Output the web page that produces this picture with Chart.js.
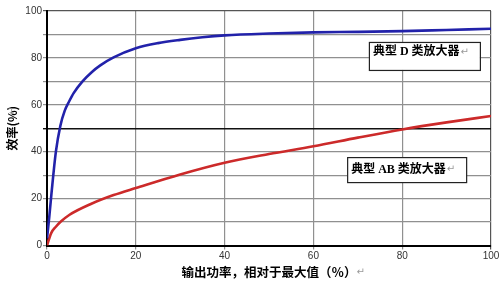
<!DOCTYPE html>
<html>
<head>
<meta charset="utf-8">
<script src="https://cdn.jsdelivr.net/npm/chart.js@4/dist/chart.umd.min.js"></script>
<style>
  html, body { margin: 0; padding: 0; background: #fff; }
  #wrap { width: 504px; height: 286px; position: relative; }
</style>
</head>
<body>
<div id="wrap"><canvas id="effChart"></canvas></div>
<script>
// output power, % of max (x) and efficiency % (y)
const classDPower = [0, 0.5, 1, 2, 3, 4, 5, 6, 8, 10, 12, 15, 20, 25, 30, 35, 40, 50, 60, 70, 80, 90, 100];
const classDEff = [3, 12, 22, 40, 51, 57.5, 61.5, 65, 70, 73.8, 76.8, 80.2, 84.1, 86.3, 87.7, 88.8, 89.6, 90.4, 90.9, 91.1, 91.4, 91.9, 92.4];

const classABPower = [0, 0.5, 1, 2, 3, 5, 10, 15, 20, 30, 40, 50, 60, 70, 80, 90, 100];
const classABEff = [0, 3, 5.5, 8, 10, 13, 17.8, 21.5, 24.5, 30.3, 35.3, 39, 42.3, 46, 49.5, 52.5, 55.2];

const xTitle = "输出功率，相对于最大值（％）";
const yTitle = "效率(%)";
const returnMark = "↵";

// label boxes: text and anchor (data units of the top-left corner)
const labelTexts = ["典型 D 类放大器", "典型 AB 类放大器"];
const labelAnchorX = [72.5, 67.6];
const labelAnchorY = [86.8, 37.7];

const xTitleFont = { family: "'Noto Sans CJK SC', sans-serif", size: 12.5, weight: "bold" };
const yTitleFont = { family: "'Noto Sans CJK SC', sans-serif", size: 12, weight: "bold" };

function toPoints(xs, ys) {
  return xs.map((x, i) => ({ x: x, y: ys[i] }));
}

function drawMark(ctx, x, y) {
  ctx.font = "10px 'DejaVu Sans', sans-serif";
  ctx.fillStyle = "#999";
  ctx.textBaseline = "middle";
  ctx.textAlign = "left";
  ctx.fillText(returnMark, x, y);
}

// boxed labels over the plot plus the little grey paragraph marks
const labelBoxes = {
  id: "labelBoxes",
  afterDatasetsDraw(chart) {
    const ctx = chart.ctx;
    const sx = chart.scales.x;
    const sy = chart.scales.y;
    const sizes = [[111, 28, 10], [119, 25, 12.5]];
    ctx.save();
    labelTexts.forEach((txt, i) => {
      const left = sx.getPixelForValue(labelAnchorX[i]);
      const top = sy.getPixelForValue(labelAnchorY[i]);
      const [w, h, ty] = sizes[i];
      ctx.fillStyle = "#fff";
      ctx.fillRect(left, top, w, h);
      ctx.strokeStyle = "#222";
      ctx.lineWidth = 1.2;
      ctx.strokeRect(left + 0.5, top + 0.5, w, h);
      ctx.font = "bold 12px 'Liberation Serif', 'Noto Sans CJK SC', serif";
      ctx.fillStyle = "#000";
      ctx.textBaseline = "middle";
      ctx.fillText(txt, left + 4, top + ty);
      const tw = ctx.measureText(txt).width;
      drawMark(ctx, left + 5 + tw, top + ty);
    });
    ctx.restore();
  },
  afterDraw(chart) {
    const ctx = chart.ctx;
    const sx = chart.scales.x;
    const sy = chart.scales.y;
    ctx.save();
    // x title mark
    ctx.font = "bold " + xTitleFont.size + "px " + xTitleFont.family;
    const xw = ctx.measureText(xTitle).width;
    const xc = (sx.left + sx.right) / 2;
    drawMark(ctx, xc + xw / 2, 286 - 14);
    // y title mark (rotated)
    ctx.font = "bold " + yTitleFont.size + "px " + yTitleFont.family;
    const yw = ctx.measureText(yTitle).width;
    const yc = (sy.top + sy.bottom) / 2;
    ctx.translate(12, yc - yw / 2 + 9);
    ctx.rotate(-Math.PI / 2);
    drawMark(ctx, 0, 0);
    ctx.restore();
  },
};

function gridColorY(c) {
  if (c.tick.value === 50) return "#111";
  if (c.tick.value === 100) return "#555";
  return "#909090";
}

function gridColorX(c) {
  if (c.tick.value === 100) return "#555";
  return "#909090";
}

const ctx = document.getElementById("effChart").getContext("2d");
new Chart(ctx, {
  type: "scatter",
  data: {
    datasets: [
      {
        label: labelTexts[0],
        data: toPoints(classDPower, classDEff),
        showLine: true,
        borderColor: "#2222aa",
        borderWidth: 2.6,
        pointRadius: 0,
        cubicInterpolationMode: "monotone",
      },
      {
        label: labelTexts[1],
        data: toPoints(classABPower, classABEff),
        showLine: true,
        borderColor: "#cc2a2a",
        borderWidth: 2.6,
        pointRadius: 0,
        cubicInterpolationMode: "monotone",
      },
    ],
  },
  options: {
    responsive: true,
    maintainAspectRatio: false,
    animation: false,
    layout: { padding: { top: 11, right: 13, left: 0, bottom: 0 } },
    plugins: {
      legend: { display: false },
      tooltip: { enabled: false },
    },
    scales: {
      x: {
        type: "linear",
        min: 0,
        max: 100,
        afterFit(scale) { scale.height = 40.5; },
        border: { color: "#000", width: 2 },
        grid: { color: gridColorX, lineWidth: 1.2, tickLength: 4 },
        ticks: {
          stepSize: 20,
          padding: 1,
          maxRotation: 0,
          color: "#333",
          font: { family: "'Liberation Sans', Arial, sans-serif", size: 10 },
        },
        title: {
          display: true,
          text: xTitle,
          color: "#000",
          padding: { top: 0, bottom: 6 },
          font: xTitleFont,
        },
      },
      y: {
        min: 0,
        max: 100,
        afterFit(scale) { scale.width = 47; },
        border: { color: "#000", width: 2 },
        grid: {
          color: gridColorY,
          lineWidth: (c) => (c.tick.value === 50 ? 1.4 : 1.2),
          tickLength: 4,
        },
        ticks: {
          stepSize: 10,
          padding: 1,
          color: "#333",
          font: { family: "'Liberation Sans', Arial, sans-serif", size: 10 },
          callback: (v) => (v % 20 === 0 ? v : ""),
        },
        title: {
          display: true,
          text: yTitle,
          color: "#000",
          padding: { top: 5, bottom: 0 },
          font: yTitleFont,
        },
      },
    },
  },
  plugins: [labelBoxes],
});
</script>
</body>
</html>
